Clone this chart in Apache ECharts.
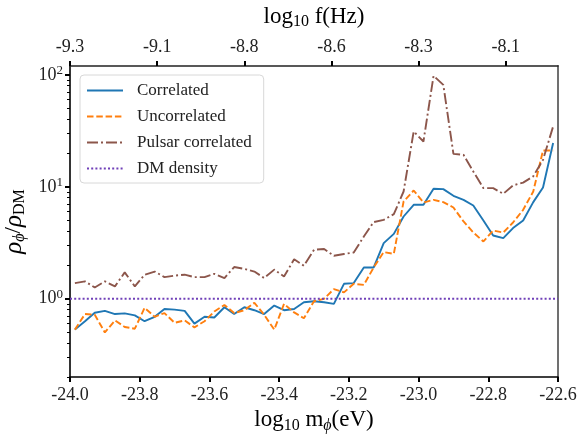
<!DOCTYPE html>
<html><head><meta charset="utf-8">
<script src="https://cdn.jsdelivr.net/npm/echarts@6/dist/echarts.min.js"></script>
<style>html,body{margin:0;padding:0;background:#fff}#c{width:584px;height:440px}</style>
</head><body><div id="c"></div>
<script>
// log10 m_phi (eV) bin centres
const massLog = [-23.986,-23.957,-23.929,-23.900,-23.871,-23.843,-23.814,-23.786,-23.757,-23.729,
  -23.700,-23.671,-23.643,-23.614,-23.586,-23.557,-23.529,-23.500,-23.471,-23.443,
  -23.414,-23.386,-23.357,-23.329,-23.300,-23.271,-23.243,-23.214,-23.186,-23.157,
  -23.129,-23.100,-23.071,-23.043,-23.014,-22.986,-22.957,-22.929,-22.900,-22.871,
  -22.843,-22.814,-22.786,-22.757,-22.729,-22.700,-22.671,-22.643,-22.614];
const correlated = [0.53,0.63,0.75,0.78,0.73,0.74,0.71,0.63,0.69,0.81,
  0.80,0.78,0.60,0.69,0.68,0.84,0.73,0.84,0.79,0.73,
  0.87,0.79,0.81,0.93,0.95,0.93,0.90,1.36,1.38,1.90,
  1.90,3.14,3.80,5.43,6.91,6.91,9.60,9.54,8.31,7.65,
  6.81,5.00,3.67,3.48,4.28,5.00,7.30,9.86,24.6];
const uncorrelated = [0.53,0.73,0.72,0.50,0.64,0.56,0.54,0.83,0.69,0.745,
  0.61,0.64,0.555,0.63,0.77,0.88,0.745,0.79,0.92,0.72,
  0.53,0.90,0.755,0.67,0.95,1.00,1.22,1.14,1.36,1.33,
  1.90,2.61,2.52,7.39,9.27,7.24,7.65,7.30,6.53,4.90,
  3.91,3.25,4.07,3.91,4.80,6.23,9.08,21.1,21.1];
const pulsarCorrelated = [1.38,1.43,1.26,1.43,1.29,1.72,1.29,1.64,1.75,1.56,
  1.61,1.64,1.56,1.56,1.67,1.53,1.92,1.85,1.75,1.53,
  1.82,1.58,2.25,1.97,2.74,2.78,2.42,2.51,2.59,3.60,
  4.84,5.07,5.70,9.08,31.2,25.4,98.0,81.4,19.7,19.3,
  13.7,9.73,9.73,8.66,10.3,10.9,12.4,17.4,34.6];
const dmDensityX = [-24.0, -22.6];
const dmDensityY = [1, 1];

const xRange = [-24.0, -22.6];
const yRange = [0.2, 120];
const xTickValues = [-24.0,-23.8,-23.6,-23.4,-23.2,-23.0,-22.8,-22.6];
const xTickLabels = ['-24.0','-23.8','-23.6','-23.4','-23.2','-23.0','-22.8','-22.6'];
const topTickValues = [-24.0,-23.75,-23.5,-23.25,-23.0,-22.75];
const topTickLabels = ['-9.3','-9.1','-8.8','-8.6','-8.3','-8.1'];
const yTickValues = [1, 10, 100];
const yTickExponents = ['0','1','2'];
const yMinorTickValues = [0.2,0.3,0.4,0.5,0.6,0.7,0.8,0.9,2,3,4,5,6,7,8,9,20,30,40,50,60,70,80,90];

const F = '"Liberation Serif","DejaVu Serif",serif';
const lg = v => Math.log10(v);
const near = (arr, v) => arr.findIndex(t => Math.abs(t - v) < 1e-6);
const pairs = ys => massLog.map((m, i) => [m, ys[i]]);

const nameRich = {
  a: {fontSize: 23, fontFamily: F, color: '#000'},
  i: {fontSize: 25, fontFamily: F, fontStyle: 'italic', color: '#000'},
  s: {fontSize: 16, fontFamily: F, color: '#000', padding: [11, 0, 0, 0]},
  si: {fontSize: 16, fontFamily: F, fontStyle: 'italic', color: '#000', padding: [11, 0, 0, 0]}
};

const chart = echarts.init(document.getElementById('c'), null, {renderer: 'canvas'});
chart.setOption({
  animation: false,
  backgroundColor: '#fff',
  grid: {left: 70, right: 26, top: 66, bottom: 63, containLabel: false, outerBoundsMode: 'none'},
  legend: {
    orient: 'vertical', left: 80, top: 75,
    padding: [7, 12, 6, 6],
    itemWidth: 36, itemHeight: 14, itemGap: 9,
    itemStyle: {opacity: 0},
    backgroundColor: '#fff', borderColor: '#d8d8d8', borderWidth: 1, borderRadius: 4,
    textStyle: {fontSize: 17, fontFamily: F, color: '#222', padding: [0, 0, 0, 9]},
    data: ['Correlated', 'Uncorrelated', 'Pulsar correlated', 'DM density']
  },
  xAxis: [{
    type: 'value', position: 'bottom', min: xRange[0], max: xRange[1],
    axisLine: {show: true, onZero: false, lineStyle: {color: '#000', width: 1.6}},
    axisTick: {show: true, length: 5, lineStyle: {color: '#000', width: 2}, customValues: xTickValues},
    axisLabel: {customValues: xTickValues, margin: 9, fontSize: 18, fontFamily: F, color: '#222',
      formatter: v => xTickLabels[near(xTickValues, v)] || ''},
    splitLine: {show: false},
    name: '{a|log}{s|10}{a| m}{si|ϕ}{a|(eV)}', nameLocation: 'middle', nameGap: 28,
    nameTextStyle: {rich: nameRich}
  }, {
    type: 'value', position: 'top', min: xRange[0], max: xRange[1],
    axisLine: {show: true, onZero: false, lineStyle: {color: '#222', width: 1.6}},
    axisTick: {show: true, length: 5, lineStyle: {color: '#000', width: 2}, customValues: topTickValues},
    axisLabel: {customValues: topTickValues, margin: 10, fontSize: 18, fontFamily: F, color: '#222',
      formatter: v => topTickLabels[near(topTickValues, v)] || ''},
    splitLine: {show: false},
    name: '{a|log}{s|10}{a| f(Hz)}', nameLocation: 'middle', nameGap: 36,
    nameTextStyle: {rich: nameRich}
  }],
  yAxis: [{
    // data axis (log scale)
    type: 'log', logBase: 10, position: 'right', min: yRange[0], max: yRange[1],
    axisLine: {show: true, lineStyle: {color: '#707070', width: 2}},
    axisTick: {show: false}, axisLabel: {show: false}, splitLine: {show: false}, minorTick: {show: false}
  }, {
    // major ticks & labels
    type: 'value', position: 'left', min: lg(yRange[0]), max: lg(yRange[1]),
    axisLine: {show: true, onZero: false, lineStyle: {color: '#000', width: 1.6}},
    axisTick: {show: true, length: 5, lineStyle: {color: '#000', width: 2}, customValues: yTickValues.map(lg)},
    axisLabel: {customValues: yTickValues.map(lg), margin: 7,
      formatter: v => '{b|10}{p|' + (yTickExponents[near(yTickValues.map(lg), v)] || '') + '}',
      rich: {b: {fontSize: 18, fontFamily: F, color: '#222'},
             p: {fontSize: 13, fontFamily: F, color: '#222', padding: [0, 0, 9, 0]}}},
    splitLine: {show: false},
    name: '{i|ρ}{si|ϕ}{a|/}{i|ρ}{s|DM}', nameLocation: 'middle', nameGap: 37, nameRotate: 90,
    nameTextStyle: {rich: nameRich}
  }, {
    // minor ticks
    type: 'value', position: 'left', min: lg(yRange[0]), max: lg(yRange[1]),
    axisLine: {show: false},
    axisTick: {show: true, length: 3, lineStyle: {color: '#000', width: 1}, customValues: yMinorTickValues.map(lg)},
    axisLabel: {show: false}, splitLine: {show: false}
  }],
  series: [{
    name: 'Correlated', type: 'line', xAxisIndex: 0, yAxisIndex: 0, symbol: 'none',
    data: pairs(correlated), color: '#1f77b4',
    lineStyle: {color: '#1f77b4', width: 1.9}
  }, {
    name: 'Uncorrelated', type: 'line', xAxisIndex: 0, yAxisIndex: 0, symbol: 'none',
    data: pairs(uncorrelated), color: '#ff7f0e',
    lineStyle: {color: '#ff7f0e', width: 1.9, type: [6.5, 2.8]}
  }, {
    name: 'Pulsar correlated', type: 'line', xAxisIndex: 0, yAxisIndex: 0, symbol: 'none',
    data: pairs(pulsarCorrelated), color: '#8c564b',
    lineStyle: {color: '#8c564b', width: 1.9, type: [11, 3, 2, 3]}
  }, {
    name: 'DM density', type: 'line', xAxisIndex: 0, yAxisIndex: 0, symbol: 'none',
    data: dmDensityX.map((x, i) => [x, dmDensityY[i]]), color: '#7040b8',
    lineStyle: {color: '#7040b8', width: 2, type: [2, 2.2]}
  }]
});
</script>
</body></html>
